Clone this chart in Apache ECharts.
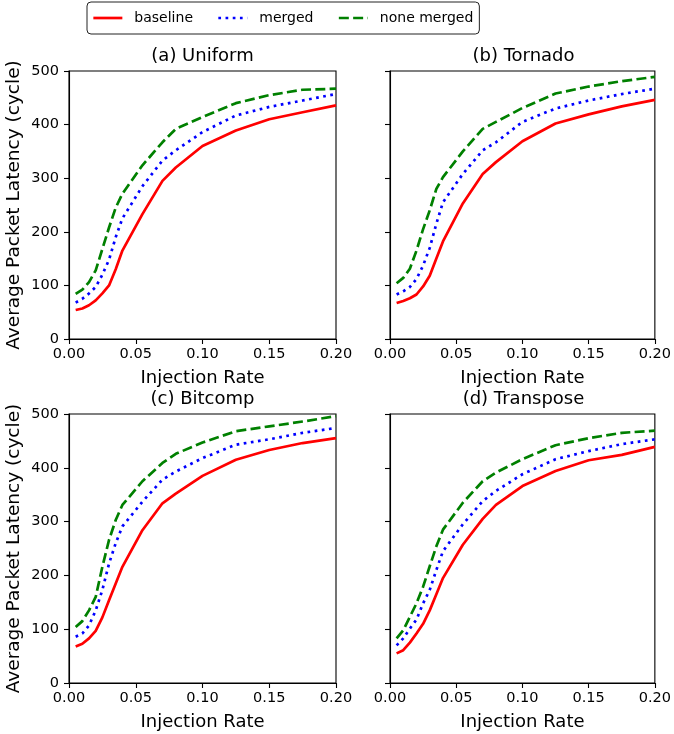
<!DOCTYPE html>
<html><head><meta charset="utf-8">
<script src="https://cdn.jsdelivr.net/npm/echarts@6.0.0/dist/echarts.min.js"></script>
<style>html,body{margin:0;padding:0;background:#fff}#c{width:674px;height:734px}</style>
</head><body><div id="c"></div>
<script>
// ---- data ----
const injectionRates = [0.005,0.01,0.015,0.02,0.025,0.03,0.035,0.04,0.055,0.07,0.08,0.1,0.125,0.15,0.175,0.2];
const panelTitles = ['(a) Uniform','(b) Tornado','(c) Bitcomp','(d) Transpose'];
const seriesNames = ['baseline','merged','none merged'];
const xTicks = [0, 0.05, 0.1, 0.15, 0.2];
const yTicks = [0, 100, 200, 300, 400, 500];

const uniformBaseline   = [54,57,63,72,85,100,130,165,233,295,320,360,389,410,423,436];
const uniformMerged     = [68,75,85,97,120,148,190,225,285,333,352,386,417,433,445,457];
const uniformNoneMerged = [84,92,106,128,168,208,245,271,324,367,392,414,440,455,465,467];

const tornadoBaseline   = [67,71,76,83,98,118,150,182,253,308,330,369,402,419,434,446];
const tornadoMerged     = [83,89,97,112,137,170,215,255,308,352,367,405,430,445,457,467];
const tornadoNoneMerged = [104,114,131,165,205,240,280,302,350,392,405,431,458,471,481,489];

const bitcompBaseline   = [68,73,83,97,122,154,185,216,284,334,352,385,415,433,446,455];
const bitcompMerged     = [86,92,107,135,173,222,260,291,337,378,393,418,443,453,465,474];
const bitcompNoneMerged = [104,115,135,160,216,266,303,331,375,409,426,447,468,477,486,496];

const transposeBaseline   = [55,61,75,92,110,135,165,195,257,305,331,366,394,414,424,439];
const transposeMerged     = [70,83,101,118,148,173,210,245,295,338,357,388,416,431,444,453];
const transposeNoneMerged = [83,98,123,148,179,217,254,285,335,375,391,416,442,455,465,469];

const panelData = [
  [uniformBaseline, uniformMerged, uniformNoneMerged],
  [tornadoBaseline, tornadoMerged, tornadoNoneMerged],
  [bitcompBaseline, bitcompMerged, bitcompNoneMerged],
  [transposeBaseline, transposeMerged, transposeNoneMerged]
];

// ---- styles / layout ----
const FONT = 'DejaVu Sans';
const colors = ['#ff0000', '#0000ff', '#008000'];
const lineTypes = ['solid', [2.7, 4.5], [10, 4.3]];
const grids = [
  {left: 69, top: 71, width: 267, height: 268},
  {left: 390, top: 71, width: 267, height: 268},
  {left: 69, top: 414, width: 267, height: 269},
  {left: 390, top: 414, width: 267, height: 269}
];

const chart = echarts.init(document.getElementById('c'), null, {renderer: 'canvas'});

const xAxes = [], yAxes = [], series = [], graphics = [];
grids.forEach((g, i) => {
  xAxes.push({
    gridIndex: i, type: 'value', min: xTicks[0], max: xTicks[xTicks.length-1], interval: 0.05,
    name: 'Injection Rate', nameLocation: 'middle', nameGap: 30,
    nameTextStyle: {fontFamily: FONT, fontSize: 18, color: '#000'},
    axisLine: {show: true, lineStyle: {color: '#000', width: 1.1}},
    axisTick: {show: true, inside: false, length: 5, lineStyle: {color: '#000', width: 1.1}},
    axisLabel: {show: true, fontFamily: FONT, fontSize: 14.5, color: '#000', margin: 8,
      formatter: v => v.toFixed(2)},
    splitLine: {show: false}
  });
  const isLeft = (i % 2 === 0);
  yAxes.push({
    gridIndex: i, type: 'value', min: yTicks[0], max: yTicks[yTicks.length-1], interval: 100,
    name: isLeft ? 'Average Packet Latency (cycle)' : '', nameLocation: 'middle', nameGap: 45,
    nameTextStyle: {fontFamily: FONT, fontSize: 18.5, color: '#000'},
    axisLine: {show: true, lineStyle: {color: '#000', width: 1.1}},
    axisTick: {show: true, inside: false, length: 5, lineStyle: {color: '#000', width: 1.1}},
    axisLabel: {show: isLeft, fontFamily: FONT, fontSize: 14.5, color: '#000', margin: 10},
    splitLine: {show: false}
  });
  panelData[i].forEach((vals, k) => {
    series.push({
      name: seriesNames[k], type: 'line', xAxisIndex: i, yAxisIndex: i,
      data: injectionRates.map((x, j) => [x, vals[j]]),
      symbol: 'none', showSymbol: false, smooth: false, animation: false,
      lineStyle: {color: colors[k], width: 2.7, type: lineTypes[k], cap: 'butt', join: 'round'},
      itemStyle: {color: colors[k]},
      z: 2 + k
    });
  });
  graphics.push({
    type: 'text', x: g.left + g.width / 2, y: g.top - 15,
    style: {text: panelTitles[i], fontFamily: FONT, fontSize: 18, fill: '#000',
      textAlign: 'center', textVerticalAlign: 'middle'}
  });
});

chart.setOption({
  backgroundColor: '#fff',
  animation: false,
  grid: grids.map(g => Object.assign({show: true, borderColor: '#000', borderWidth: 1.1,
    backgroundColor: 'transparent', containLabel: false}, g)),
  xAxis: xAxes,
  yAxis: yAxes,
  legend: {
    data: seriesNames.map((n, k) => ({name: n,
      itemStyle: {color: 'rgba(0,0,0,0)', borderColor: 'rgba(0,0,0,0)', borderWidth: 0, opacity: 0},
      lineStyle: {color: colors[k], width: 2.7, type: lineTypes[k], cap: 'butt'}})),
    left: 87, top: 2,
    padding: [9, 6, 9, 5],
    itemWidth: 29, itemHeight: 14, itemGap: 24,
    borderColor: '#222', borderWidth: 1, borderRadius: 4,
    backgroundColor: '#fff',
    textStyle: {fontFamily: FONT, fontSize: 14, color: '#000', padding: [0, 0, 0, 7]}
  },
  series: series,
  graphic: graphics
});
</script>
</body></html>
